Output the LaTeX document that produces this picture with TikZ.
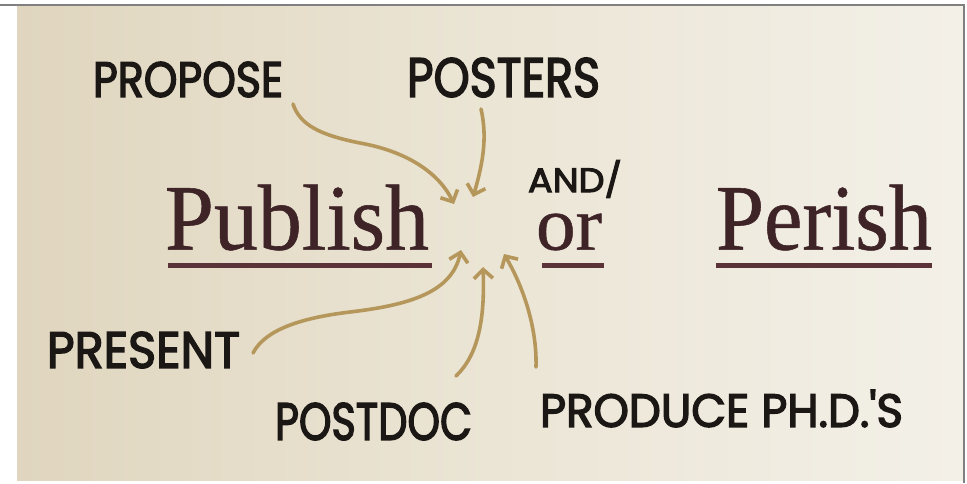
\documentclass[tikz,border=0pt]{standalone}
\usepackage{fontspec}
\newfontfamily\handfont[FakeBold=3]{Poppins}
\newfontfamily\titlefont[FakeBold=0.6]{Liberation Serif}
\usetikzlibrary{arrows.meta}
\definecolor{paperL}{HTML}{E0D6BF}
\definecolor{paperM}{HTML}{EBE5D5}
\definecolor{paperR}{HTML}{F3F0E8}
\definecolor{ink}{HTML}{1A1714}
\definecolor{maroon}{HTML}{3E2327}
\definecolor{uline}{HTML}{5A3238}
\definecolor{tan}{HTML}{B5975B}
\newcommand\fitbox[3]{\resizebox{#1pt}{#2pt}{#3}}
\tikzset{
  hand/.style={inner sep=0pt, text=ink, font=\handfont},
  title/.style={inner sep=0pt, text=maroon, font=\titlefont},
  arr/.style={draw=tan, line width=3.6pt, line cap=round, line join=round,
    -{Straight Barb[length=9pt,width=19pt]}},
  under/.style={draw=uline, line width=5pt}
}
\begin{document}
\begin{tikzpicture}[x=1pt,y=-1pt]
\useasboundingbox (0,0) rectangle (967,483);
\fill[white] (0,0) rectangle (967,483);
\shade[left color=paperL, right color=paperR, middle color=paperM] (17,6) rectangle (963,480);
\draw[gray, line width=2pt] (0,5) -- (964,5) -- (964,483);

% titles
\node[title] (publish) at (297,217.5) {\fitbox{264}{65}{Publish}};
\node[title] (or) at (569,232) {\fitbox{66}{36}{or}};
\node[title] (perish) at (824,217.5) {\fitbox{216}{65}{Perish}};
\node[hand] (andor) at (575,179) {\fitbox{94}{32}{AND/}};
\draw[under] (168,265.5) -- (432,265.5);
\draw[under] (542,265.5) -- (604,265.5);
\draw[under] (716,265.5) -- (932,265.5);

% labels
\node[hand] (propose) at (188,79.5) {\fitbox{190}{35}{PROPOSE}};
\node[hand] (posters) at (503.5,77.5) {\fitbox{193}{39}{POSTERS}};
\node[hand] (present) at (143.5,350) {\fitbox{193}{36}{PRESENT}};
\node[hand] (postdoc) at (373.5,421.5) {\fitbox{197}{37}{POSTDOC}};
\node[hand] (produce) at (721.5,408.5) {\fitbox{363}{37}{PRODUCE PH.D.'S}};

% connector ends
\coordinate (s1) at (293,104);
\coordinate (t1) at (454,204);
\coordinate (s2) at (481,109);
\coordinate (t2) at (473,197);
\coordinate (s3) at (253,353);
\coordinate (t3) at (461,250);
\coordinate (s4) at (456,376);
\coordinate (t4) at (483,267);
\coordinate (s5) at (536,367);
\coordinate (t5) at (504,254);

\draw[arr] (s1) .. controls (300,125) and (320,135) .. (360,143) .. controls (410,152) and (440,175) .. (t1);
\draw[arr] (s2) .. controls (487,135) and (484,160) .. (t2);
\draw[arr] (s3) .. controls (265,330) and (300,318) .. (350,312) .. controls (410,305) and (452,292) .. (t3);
\draw[arr] (s4) .. controls (478,355) and (485,320) .. (t4);
\draw[arr] (s5) .. controls (537,330) and (525,290) .. (t5);
\end{tikzpicture}
\end{document}
